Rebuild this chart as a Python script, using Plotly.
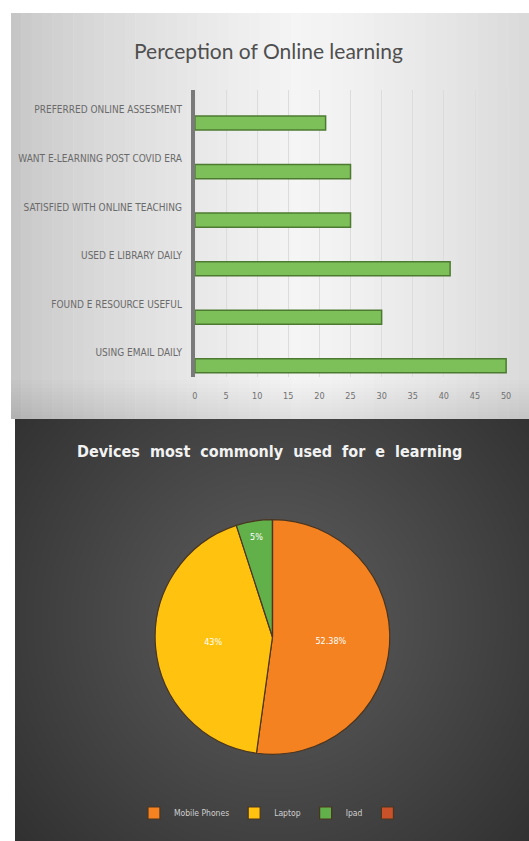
import plotly.graph_objects as go

W, H = 529, 841

# ---- data ----
bar_categories = [
    "USING EMAIL DAILY",
    "FOUND E RESOURCE USEFUL",
    "USED E LIBRARY DAILY",
    "SATISFIED WITH ONLINE TEACHING",
    "WANT E-LEARNING POST COVID ERA",
    "PREFERRED ONLINE ASSESMENT",
]
bar_values = [50, 30, 41, 25, 25, 21]
x_ticks = [0, 5, 10, 15, 20, 25, 30, 35, 40, 45, 50]

pie_labels = ["Mobile Phones", "Laptop", "Ipad", " "]
pie_values = [52.38, 43, 5, 0]
pie_text = ["52.38%", "43%", "5%", ""]
pie_colors = ["#F58220", "#FFC20E", "#62B04A", "#C9522B"]

COND = "DejaVu Sans Condensed"


def px(x):
    return x / W


def py(y):
    return 1 - y / H


shapes = []


def rect(x0, y0, x1, y1, color):
    shapes.append(dict(type="rect", xref="paper", yref="paper",
                       x0=px(x0), x1=px(x1), y0=py(y1), y1=py(y0),
                       fillcolor=color, line=dict(width=0), layer="below"))


# bottom dark panel base + smooth radial glow
rect(12, 419, 529, 841, "#2b2b2b")
cx, cy = 275, 620
n = 45
for i in range(n):
    r = 380 - i * 7.5
    shapes.append(dict(type="circle", xref="paper", yref="paper",
                       x0=px(cx - r), x1=px(cx + r), y0=py(cy + r), y1=py(cy - r),
                       fillcolor="rgba(255,255,255,0.0065)", line=dict(width=0), layer="below"))

# top light panel with horizontal gradient
x0p, x1p = 8, 529
strips = 50
for i in range(strips):
    a = x0p + (x1p - x0p) * i / strips
    b = x0p + (x1p - x0p) * (i + 1) / strips + 0.5
    t = (i + 0.5) / strips
    if t < 0.55:
        v = 196 + (245 - 196) * (t / 0.55) ** 0.7
    else:
        v = 245 - (245 - 218) * ((t - 0.55) / 0.45) ** 1.3
    v = int(v)
    rect(a, 13, b, 419, f"rgb({v},{v},{v})")
# slight darkening toward bottom of the light panel
for j in range(10):
    y0 = 380 + j * 3.9
    rect(8, y0, 529, 419, "rgba(0,0,0,0.006)")

# white surround
rect(0, 0, 529, 13, "#ffffff")
rect(0, 0, 8, 419, "#ffffff")
rect(0, 419, 12, 841, "#ffffff")

fig = go.Figure()

fig.add_trace(go.Bar(
    y=bar_categories, x=bar_values, orientation="h",
    width=0.29, offset=-0.415,
    marker=dict(color="#7DC05A", line=dict(color="#4C7A30", width=1.5)),
    showlegend=False, hoverinfo="x+y",
    xaxis="x", yaxis="y",
))

fig.add_trace(go.Pie(
    labels=pie_labels, values=pie_values, text=pie_text,
    textinfo="text", textposition="inside",
    insidetextorientation="horizontal",
    textfont=dict(color="#ffffff", size=9, family=COND),
    marker=dict(colors=pie_colors, line=dict(color="#4a3520", width=1.2)),
    sort=False, direction="clockwise", rotation=0,
    domain=dict(x=[px(271 - 118), px(271 + 118)], y=[py(637 + 118), py(637 - 118)]),
    showlegend=True,
))

fig.update_layout(
    width=W, height=H,
    margin=dict(l=0, r=0, t=0, b=0),
    paper_bgcolor="#ffffff",
    plot_bgcolor="rgba(0,0,0,0)",
    shapes=shapes,
    xaxis=dict(
        domain=[px(193), px(511)], range=[0, 50.8],
        tickvals=x_ticks, showgrid=True, gridcolor="#dcdcdc", gridwidth=1,
        zeroline=False, showline=False, ticks="",
        ticklabelstandoff=12,
        tickfont=dict(family=COND, size=9, color="#707070"),
        anchor="y", fixedrange=True,
    ),
    yaxis=dict(
        domain=[py(377), py(90)], range=[-0.5, 5.41],
        type="category", categoryorder="array", categoryarray=bar_categories,
        showgrid=False, zeroline=False, showline=True,
        linecolor="#7a7a7a", linewidth=4, ticks="",
        ticklabelstandoff=7,
        tickfont=dict(family=COND, size=10, color="#6a6a6a"),
        anchor="x", fixedrange=True,
    ),
    legend=dict(
        orientation="h", x=px(273), xanchor="center", y=py(813), yanchor="middle",
        font=dict(family=COND, size=8.5, color="#d0d0d0"),
        bgcolor="rgba(0,0,0,0)", itemwidth=30, tracegroupgap=0,
    ),
    annotations=[
        dict(text="Perception of Online learning", xref="paper", yref="paper",
             x=px(267), y=py(50), xanchor="center", yanchor="middle", showarrow=False,
             font=dict(family="Lato", size=21, color="#4f4f4f")),
        dict(text="<b>Devices  most  commonly  used  for  e  learning</b>", xref="paper", yref="paper",
             x=px(268), y=py(452), xanchor="center", yanchor="middle", showarrow=False,
             font=dict(family=COND, size=16, color="#f2f2f2")),
    ],
)

fig.write_html("out.html")
